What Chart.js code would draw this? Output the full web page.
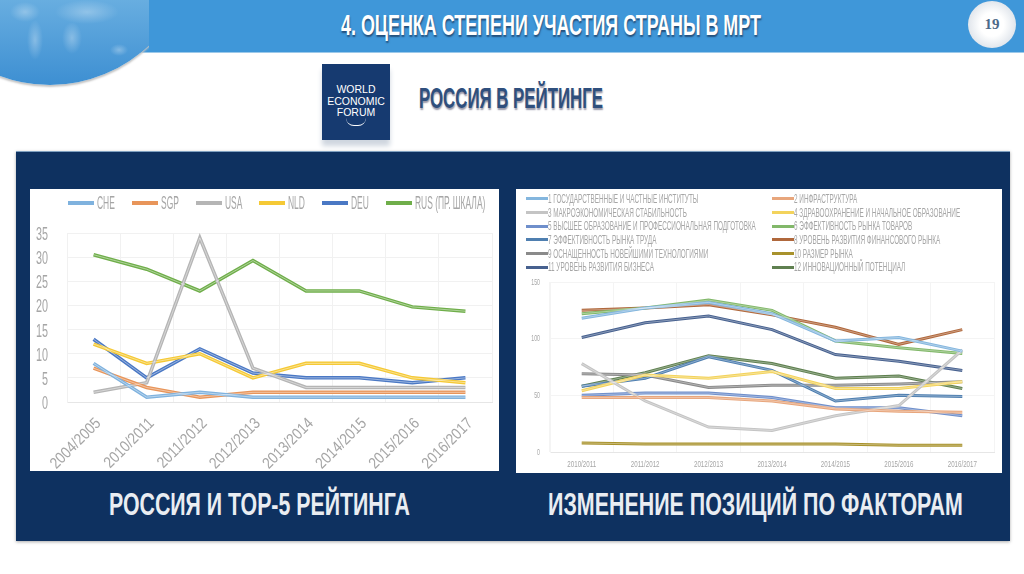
<!DOCTYPE html>
<html lang="ru">
<head>
<meta charset="utf-8">
<title>Оценка степени участия страны в МРТ</title>
<script src="https://cdn.jsdelivr.net/npm/chart.js@4"></script>
<style>
  html, body { margin: 0; padding: 0; background: #fff; }
  body { position: relative; width: 1024px; height: 574px; overflow: hidden; font-family: "Liberation Sans", sans-serif; }
  .abs { position: absolute; }
  .fit { white-space: nowrap; transform-origin: 0 0; font-weight: bold; }
  #header { left: 0; top: 0; width: 1024px; height: 52px; background: #3f97d9; border-bottom: 1px solid #9cc9ea; }
  #globeClip { left: 0; top: 0; width: 149px; height: 90px; overflow: hidden; }
  #globe { left: -93px; top: -60px; width: 286px; height: 145px; border-radius: 0 0 143px 143px;
    background:
      radial-gradient(ellipse 15px 10px at 118px 72px, rgba(255,255,255,.3), transparent),
      radial-gradient(ellipse 8px 20px at 128px 100px, rgba(255,255,255,.3), transparent),
      radial-gradient(ellipse 32px 12px at 180px 72px, rgba(255,255,255,.3), transparent),
      radial-gradient(ellipse 10px 16px at 165px 98px, rgba(255,255,255,.3), transparent),
      radial-gradient(ellipse 9px 6px at 212px 110px, rgba(255,255,255,.3), transparent),
      linear-gradient(#86c3ea, #3d8fd2);
    box-shadow: 0 2px 2px #c4c4c4; }
  #title { left: 341px; top: 8px; color: #fff; font-size: 30px; text-shadow: 1px 2px 2px #24507c; }
  #sphere { left: 968px; top: 1px; width: 48px; height: 47px; border-radius: 50%; background: radial-gradient(circle at 50% 50%, #fff 35%, #c9d2dd); color: #4d6a8a; font: bold 15px "Liberation Serif", serif; text-align: center; line-height: 47px; }
  #logo { left: 322px; top: 64px; width: 68px; height: 76px; background: #163a70; color: #fff; font: 10.5px/11.5px "Liberation Sans", sans-serif; text-align: center; box-sizing: border-box; padding-top: 20px; box-shadow: 0 6px 5px #cfd6df; }
  #smile { left: 24px; top: 54px; width: 20px; height: 7px; border-bottom: 1px solid #fff; border-radius: 0 0 12px 12px; }
  #subtitle { left: 419px; top: 81px; color: #2f4f7d; font-size: 30px; text-shadow: 1px 2px 2px #99a; }
  #panel { left: 16px; top: 151px; width: 994px; height: 390px; background: #0e3160; border-top: 1px solid #7fa0c0; box-sizing: border-box; box-shadow: 0 1px 3px #aaa; }
  .card { background: #fff; top: 189px; }
  #leftCard { left: 30px; width: 469px; height: 282px; }
  #rightCard { left: 516px; width: 486px; height: 284px; }
  canvas { display: block; }
  #rankLegend { left: 38px; top: 3px; display: flex; gap: 17px; color: #a6a6a6; font-size: 18px; height: 22px; }
  #factorLegend { left: 10px; top: 3px; width: 476px; display: grid; grid-template-columns: 246px 230px; grid-auto-rows: 13.7px; color: #a6a6a6; font-size: 12px; }
  .item { display: flex; align-items: center; white-space: nowrap; }
  .item i { display: block; flex: none; border-width: 1px 0; border-style: solid; }
  #rankLegend i { width: 26px; height: 2px; margin-right: 3px; }
  #factorLegend i { width: 22px; height: 1px; }
  .item span { display: inline-block; transform-origin: 0 50%; }
  .caption { top: 486px; color: #e9edf2; font-size: 32px; }
  #capLeft { left: 109px; }
  #capRight { left: 548px; }
</style>
</head>
<body>
<div class="abs" id="header"></div>
<div class="abs" id="globeClip"><div class="abs" id="globe"></div></div>
<div class="abs fit" id="title" data-w="420">4. ОЦЕНКА СТЕПЕНИ УЧАСТИЯ СТРАНЫ В МРТ</div>
<div class="abs" id="sphere">19</div>
<div class="abs" id="logo">WORLD<br>ECONOMIC<br>FORUM<div class="abs" id="smile"></div></div>
<div class="abs fit" id="subtitle" data-w="184">РОССИЯ В РЕЙТИНГЕ</div>
<div class="abs" id="panel"></div>
<div class="abs card" id="leftCard">
  <canvas id="rankChart" width="469" height="282"></canvas>
  <div class="abs" id="rankLegend"></div>
</div>
<div class="abs card" id="rightCard">
  <canvas id="factorChart" width="486" height="284"></canvas>
  <div class="abs" id="factorLegend"></div>
</div>
<div class="abs caption fit" id="capLeft" data-w="301">РОССИЯ И ТОР-5 РЕЙТИНГА</div>
<div class="abs caption fit" id="capRight" data-w="415">ИЗМЕНЕНИЕ ПОЗИЦИЙ ПО ФАКТОРАМ</div>

<script>
// left chart: Russia and the top 5
const rankYears = ['2004/2005', '2010/2011', '2011/2012', '2012/2013', '2013/2014', '2014/2015', '2015/2016', '2016/2017'];
const rankNames = ['CHE', 'SGP', 'USA', 'NLD', 'DEU', 'RUS (ПР. ШКАЛА)'];
const rankColors = ['#7fb2de', '#e8955a', '#b5b5b5', '#f5c935', '#4a78c4', '#6fae4a'];
const che = [8, 1, 2, 1, 1, 1, 1, 1];
const sgp = [7, 3, 1, 2, 2, 2, 2, 2];
const usa = [2, 4, 34, 7, 3, 3, 3, 3];
const nld = [12, 8, 10, 5, 8, 8, 5, 4];
const deu = [13, 5, 11, 6, 5, 5, 4, 5];
const rus = [30.5, 27.5, 23, 29.3, 23, 23, 19.7, 18.8];

// right chart: factor positions
const factorYears = ['2010/2011', '2011/2012', '2012/2013', '2013/2014', '2014/2015', '2015/2016', '2016/2017'];
const factorNames = [
  '1 ГОСУДАРСТВЕННЫЕ И ЧАСТНЫЕ ИНСТИТУТЫ',
  '2 ИНФРАСТРУКТУРА',
  '3 МАКРОЭКОНОМИЧЕСКАЯ СТАБИЛЬНОСТЬ',
  '4 ЗДРАВООХРАНЕНИЕ И НАЧАЛЬНОЕ ОБРАЗОВАНИЕ',
  '5 ВЫСШЕЕ ОБРАЗОВАНИЕ И ПРОФЕССИОНАЛЬНАЯ ПОДГОТОВКА',
  '6 ЭФФЕКТИВНОСТЬ РЫНКА ТОВАРОВ',
  '7 ЭФФЕКТИВНОСТЬ РЫНКА ТРУДА',
  '8 УРОВЕНЬ РАЗВИТИЯ ФИНАНСОВОГО РЫНКА',
  '9 ОСНАЩЕННОСТЬ НОВЕЙШИМИ ТЕХНОЛОГИЯМИ',
  '10 РАЗМЕР РЫНКА',
  '11 УРОВЕНЬ РАЗВИТИЯ БИЗНЕСА',
  '12 ИННОВАЦИОННЫЙ ПОТЕНЦИАЛ'
];
const factorColors = ['#84b6de', '#e8a67c', '#c4c4c4', '#f3d35c', '#6f8fcb', '#82b86a', '#4f7fb0', '#b0683c', '#8a8a8a', '#a8922c', '#47618f', '#5f8050'];
const f1 = [118, 127, 132, 122, 98, 101, 89];
const f2 = [48, 48, 48, 45, 38, 36, 35];
const f3 = [78, 45, 22, 19, 32, 41, 90];
const f4 = [54, 68, 65, 71, 56, 56, 62];
const f5 = [50, 52, 52, 48, 39, 39, 32];
const f6 = [122, 127, 134, 125, 98, 92, 87];
const f7 = [58, 65, 84, 72, 45, 50, 49];
const f8 = [125, 127, 130, 121, 110, 95, 108];
const f9 = [69, 68, 57, 59, 59, 60, 62];
const f10 = [8, 7, 7, 7, 7, 6, 6];
const f11 = [101, 114, 120, 108, 86, 80, 72];
const f12 = [58, 70, 85, 78, 65, 67, 56];

const tickGrey = '#a6a6a6';

// thin pale core along each line, the reference lines have it
const lineCore = {
  id: 'lineCore',
  afterDatasetsDraw(chart, args, opts) {
    const ctx = chart.ctx;
    chart.data.datasets.forEach((ds, i) => {
      const pts = chart.getDatasetMeta(i).data;
      ctx.save();
      ctx.strokeStyle = 'rgba(255,255,255,0.45)';
      ctx.lineWidth = opts.width;
      ctx.lineJoin = 'round';
      ctx.beginPath();
      pts.forEach((p, k) => k ? ctx.lineTo(p.x, p.y) : ctx.moveTo(p.x, p.y));
      ctx.stroke();
      ctx.restore();
    });
  }
};

// the original font is very narrow and none is installed, so tick text is squeezed here
const narrowTicks = {
  id: 'narrowTicks',
  afterDraw(chart, args, opts) {
    const ctx = chart.ctx;
    const xs = chart.scales.x;
    const ys = chart.scales.y;
    ctx.save();
    ctx.fillStyle = tickGrey;
    ctx.textBaseline = 'middle';
    ctx.textAlign = 'right';
    ctx.font = opts.y.size + 'px "Liberation Sans"';
    ys.ticks.forEach((t, i) => {
      ctx.save();
      ctx.translate(xs.left - opts.y.gap, ys.getPixelForTick(i) + opts.y.shift);
      ctx.scale(opts.y.squeeze, 1);
      ctx.fillText(t.label, 0, 0);
      ctx.restore();
    });
    ctx.font = opts.x.size + 'px "Liberation Sans"';
    ctx.textAlign = opts.x.rotate ? 'right' : 'center';
    xs.ticks.forEach((t, i) => {
      ctx.save();
      ctx.translate(xs.getPixelForTick(i) + opts.x.dx, ys.bottom + opts.x.dy);
      ctx.rotate(-opts.x.rotate * Math.PI / 180);
      ctx.scale(opts.x.squeeze, 1);
      ctx.fillText(t.label, 0, 0);
      ctx.restore();
    });
    ctx.restore();
  }
};

function makeSeries(names, colors, rows, width) {
  return names.map((name, i) => ({
    label: name,
    data: rows[i],
    borderColor: colors[i],
    backgroundColor: colors[i],
    borderWidth: width,
    pointRadius: 0,
    tension: 0
  }));
}

new Chart(document.getElementById('rankChart'), {
  type: 'line',
  data: {
    labels: rankYears,
    datasets: makeSeries(rankNames, rankColors, [che, sgp, usa, nld, deu, rus], 3.5)
  },
  plugins: [lineCore, narrowTicks],
  options: {
    responsive: false,
    animation: false,
    layout: { padding: { right: 7, top: 44 } },
    plugins: {
      tooltip: { enabled: false },
      legend: { display: false },
      lineCore: { width: 1 },
      narrowTicks: {
        y: { size: 18, squeeze: 0.6, gap: 19, shift: 2 },
        x: { size: 16, squeeze: 0.85, rotate: 45, dx: 5, dy: 19 }
      }
    },
    scales: {
      x: {
        offset: true,
        afterFit(s) { s.height = 69; },
        grid: { offset: true, color: '#f1f1f1', drawTicks: false },
        border: { color: '#e6e6e6' },
        ticks: { display: false }
      },
      y: {
        min: 0,
        max: 35,
        afterFit(s) { s.width = 37; },
        grid: { color: '#f1f1f1', drawTicks: false },
        border: { color: '#f1f1f1' },
        ticks: { display: false, stepSize: 5 }
      }
    }
  }
});

new Chart(document.getElementById('factorChart'), {
  type: 'line',
  data: {
    labels: factorYears,
    datasets: makeSeries(factorNames, factorColors, [f1, f2, f3, f4, f5, f6, f7, f8, f9, f10, f11, f12], 3)
  },
  plugins: [lineCore, narrowTicks],
  options: {
    responsive: false,
    animation: false,
    layout: { padding: { right: 8, top: 93 } },
    plugins: {
      tooltip: { enabled: false },
      legend: { display: false },
      lineCore: { width: 0.8 },
      narrowTicks: {
        y: { size: 9.5, squeeze: 0.55, gap: 10, shift: 0 },
        x: { size: 9.5, squeeze: 0.65, rotate: 0, dx: 0, dy: 12 }
      }
    },
    scales: {
      x: {
        offset: true,
        afterFit(s) { s.height = 21; },
        grid: { offset: true, color: '#f4f4f4', drawTicks: false },
        border: { color: '#e6e6e6' },
        ticks: { display: false }
      },
      y: {
        min: 0,
        max: 150,
        afterFit(s) { s.width = 34; },
        grid: { color: '#f4f4f4', drawTicks: false },
        border: { color: '#f4f4f4' },
        ticks: { display: false, stepSize: 50 }
      }
    }
  }
});

// html legends, canvas legend text can not be squeezed and does not line up in columns
function fillLegend(box, names, colors, squeeze) {
  names.forEach((name, i) => {
    const item = document.createElement('div');
    item.className = 'item';
    const swatch = document.createElement('i');
    swatch.style.background = colors[i];
    swatch.style.borderColor = colors[i];
    const text = document.createElement('span');
    text.textContent = name;
    item.appendChild(swatch);
    item.appendChild(text);
    box.appendChild(item);
    const w = text.offsetWidth;
    text.style.transform = 'scaleX(' + squeeze + ')';
    text.style.marginRight = -(w * (1 - squeeze)) + 'px';
  });
}
fillLegend(document.getElementById('rankLegend'), rankNames, rankColors, 0.47);
fillLegend(document.getElementById('factorLegend'), factorNames, factorColors, 0.53);

// squeeze headings to the width they have in the slide
document.querySelectorAll('.fit').forEach(el => {
  el.style.transform = 'scaleX(' + (el.dataset.w / el.offsetWidth) + ')';
});
</script>
</body>
</html>
